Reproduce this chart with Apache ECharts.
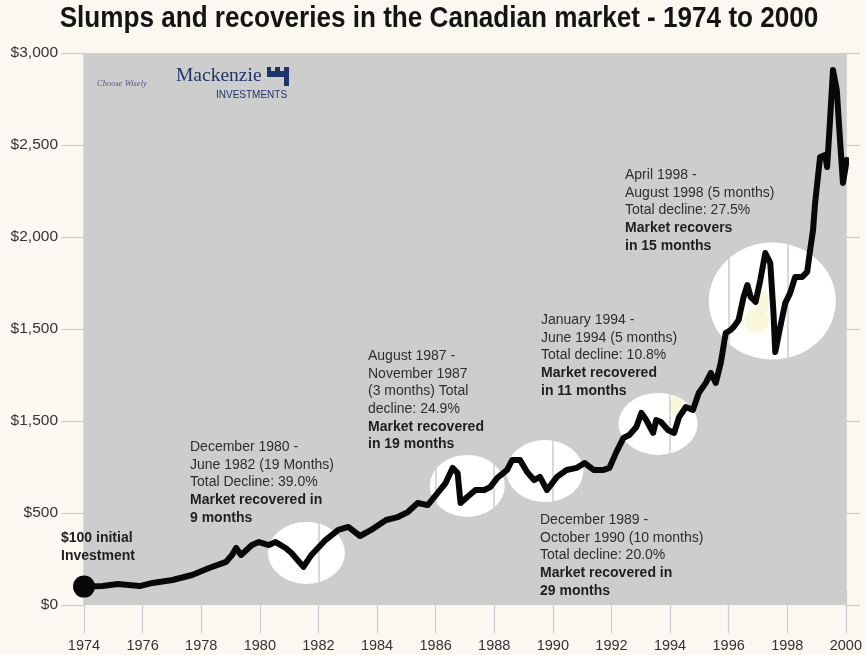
<!DOCTYPE html>
<html><head><meta charset="utf-8">
<script src="https://cdn.jsdelivr.net/npm/echarts@6/dist/echarts.min.js"></script>
<style>html,body{margin:0;padding:0;background:#fbf8f1}#c{width:865px;height:655px}</style>
</head><body><div id="c"></div>
<script>
// ---- data ----
const lineYears = [1974.00,1974.64,1975.15,1975.90,1976.34,1977.02,1977.69,1978.27,1978.85,1979.05,1979.19,1979.36,1979.73,1979.97,1980.31,1980.54,1980.88,1981.08,1981.49,1981.76,1982.24,1982.68,1983.02,1983.42,1983.80,1984.31,1984.71,1985.05,1985.39,1985.73,1986.07,1986.34,1986.58,1986.75,1986.85,1987.08,1987.36,1987.66,1987.86,1988.10,1988.44,1988.61,1988.88,1989.12,1989.36,1989.56,1989.80,1990.14,1990.47,1990.81,1991.08,1991.39,1991.73,1991.93,1992.17,1992.41,1992.61,1992.85,1993.02,1993.19,1993.42,1993.53,1993.69,1993.93,1994.14,1994.31,1994.54,1994.78,1994.98,1995.22,1995.39,1995.56,1995.73,1995.90,1996.07,1996.17,1996.34,1996.51,1996.64,1996.75,1996.92,1997.08,1997.25,1997.42,1997.53,1997.59,1997.76,1997.93,1998.10,1998.27,1998.51,1998.68,1998.78,1998.88,1998.95,1999.12,1999.29,1999.36,1999.46,1999.56,1999.69,1999.80,1999.90,2000.03];
const lineValues = [100,103,114,103,120,136,163,201,234,272,310,272,326,342,326,342,310,283,207,272,353,408,424,375,408,462,478,505,554,543,609,663,745,717,554,587,625,625,641,690,734,788,788,723,679,696,625,696,734,745,772,734,734,745,832,908,924,967,1044,1005,935,1005,995,951,935,1022,1076,1060,1152,1207,1261,1207,1315,1478,1495,1511,1549,1674,1739,1674,1647,1766,1913,1859,1587,1375,1511,1641,1696,1783,1783,1810,1929,2038,2185,2435,2446,2380,2636,2908,2799,2527,2294,2419];
const startYear = 1974;
const startValue = 100;
const xTickLabels = ['1974','1976','1978','1980','1982','1984','1986','1988','1990','1992','1994','1996','1998','2000'];
const yTickLabels = ['$0','$500','$1,500','$1,500','$2,000','$2,500','$3,000'];
const highlightYears = [1981.59, 1987.08, 1989.73, 1993.59, 1997.49];
const highlightValues = [283, 647, 728, 984, 1652];
const tintYears = [1994.2, 1996.95, 1997.15];
const tintValues = [1085, 1545, 1640];
const titleText = 'Slumps and recoveries in the Canadian market - 1974 to 2000';
const notes = [
  {normal: ['$100 initial', 'Investment'], bold: true},
  {normal: ['December 1980 -', 'June 1982 (19 Months)', 'Total Decline: 39.0%'], strong: ['Market recovered in', '9 months']},
  {normal: ['August 1987 -', 'November 1987', '(3 months) Total', 'decline: 24.9%'], strong: ['Market recovered', 'in 19 months']},
  {normal: ['January 1994 -', 'June 1994 (5 months)', 'Total decline: 10.8%'], strong: ['Market recovered', 'in 11 months']},
  {normal: ['December 1989 -', 'October 1990 (10 months)', 'Total decline: 20.0%'], strong: ['Market recovered in', '29 months']},
  {normal: ['April 1998 -', 'August 1998 (5 months)', 'Total decline: 27.5%'], strong: ['Market recovers', 'in 15 months']}
];
// ---- styling / placement ----
const highlightSizes = [[77,62],[75,62],[77,62],[79,62],[127,117]];
const tintSizes = [[14,16],[24,22],[12,22]];
const notePos = [[61,531],[190,440],[368,349],[541,313],[540,513],[625,168]];
const FONT = "'Liberation Sans', Arial, sans-serif";
const PLOT_BG = '#cdcdcd';
const GRIDC = '#cdcdcd';

function noteText(n) {
  if (n.bold) return n.normal.map(s => '{b|' + s + '}').join('\n');
  return n.normal.map(s => '{n|' + s + '}').concat(n.strong.map(s => '{b|' + s + '}')).join('\n');
}

const chart = echarts.init(document.getElementById('c'), null, {renderer: 'canvas'});
const graphics = notes.map((n, i) => ({
  type: 'text', left: notePos[i][0], top: notePos[i][1], z: 10,
  style: {
    text: noteText(n),
    rich: {
      n: {fontFamily: FONT, fontSize: 14, fill: '#2e2e2e', lineHeight: 17.7},
      b: {fontFamily: FONT, fontSize: 14, fontWeight: 'bold', fill: '#1e1e1e', lineHeight: 17.7}
    }
  }
}));
// title (condensed look)
graphics.push({type: 'text', x: 439, y: 19, scaleX: 0.9, z: 10,
  style: {text: titleText, fontFamily: FONT, fontWeight: 'bold', fontSize: 29, fill: '#141414', align: 'center', verticalAlign: 'middle'}});
// logo
graphics.push(
  {type: 'text', left: 97, top: 79, z: 10, style: {text: 'Choose Wisely', fontFamily: "'Liberation Serif', serif", fontStyle: 'italic', fontSize: 8.5, fill: '#4a5a86'}},
  {type: 'text', left: 176, top: 66, z: 10, style: {text: 'Mackenzie', fontFamily: "'Liberation Serif', serif", fontSize: 19.5, fill: '#1f3468'}},
  {type: 'text', left: 216, top: 90, z: 10, style: {text: 'INVESTMENTS', fontFamily: FONT, fontSize: 10, fill: '#1f3468'}},
  {type: 'polygon', z: 10, shape: {points: [[267,67],[271,67],[271,71],[275,71],[275,67],[280,67],[280,71],[284,71],[284,67],[289,67],[289,86],[284,86],[284,77],[267,77]]}, style: {fill: '#1f3468'}}
);

chart.setOption({
  animation: false,
  backgroundColor: '#fbf8f1',
  grid: {left: 84, right: 13, top: 53, bottom: 50, show: true, backgroundColor: PLOT_BG, borderWidth: 0, z: 0},
  xAxis: [
    {type: 'value', min: 1974, max: 2000, interval: 2, position: 'bottom', z: 3,
      axisLine: {show: false},
      axisTick: {show: true, length: 28, lineStyle: {color: GRIDC, width: 1.2}},
      axisLabel: {margin: 33, fontFamily: FONT, fontSize: 14.5, color: '#333',
        formatter: v => xTickLabels[Math.round((v - 1974) / 2)] || ''},
      splitLine: {show: true, lineStyle: {color: GRIDC, width: 1.5}}},
    {type: 'value', min: 1974, max: 2000, interval: 2, position: 'top', z: 3,
      axisLine: {show: false},
      axisTick: {show: true, length: 16, lineStyle: {color: GRIDC, width: 1.2}},
      axisLabel: {show: false}, splitLine: {show: false}}
  ],
  yAxis: [
    {type: 'value', min: 0, max: 3000, interval: 500, position: 'left',
      axisLine: {show: false},
      axisTick: {show: true, length: 23, lineStyle: {color: GRIDC, width: 1.2}},
      axisLabel: {margin: 26, fontFamily: FONT, fontSize: 15.5, color: '#333',
        formatter: v => yTickLabels[Math.round(v / 500)] || ''},
      splitLine: {show: false}},
    {type: 'value', min: 0, max: 3000, interval: 500, position: 'right',
      axisLine: {show: false},
      axisTick: {show: true, length: 14, lineStyle: {color: GRIDC, width: 1.2}},
      axisLabel: {show: false}, splitLine: {show: false}}
  ],
  graphic: graphics,
  series: [
    {type: 'scatter', z: 1, silent: true, clip: false,
      data: highlightYears.map((y, i) => [y, highlightValues[i]]),
      symbolSize: (val, p) => highlightSizes[p.dataIndex],
      itemStyle: {color: '#ffffff', opacity: 1}},
    {type: 'scatter', z: 1, silent: true, clip: false,
      data: tintYears.map((y, i) => [y, tintValues[i]]),
      symbolSize: (val, p) => tintSizes[p.dataIndex],
      itemStyle: {color: '#f7f5d6', opacity: 0.75, shadowBlur: 10, shadowColor: '#f7f5d6'}},
    {type: 'line', z: 4, silent: true, clip: false, showSymbol: false,
      data: lineYears.map((y, i) => [y, lineValues[i]]),
      lineStyle: {color: '#080808', width: 6, cap: 'round', join: 'round'}},
    {type: 'scatter', z: 5, silent: true, clip: false,
      data: [[startYear, startValue]], symbolSize: 22,
      itemStyle: {color: '#080808', opacity: 1}}
  ]
});
</script></body></html>
